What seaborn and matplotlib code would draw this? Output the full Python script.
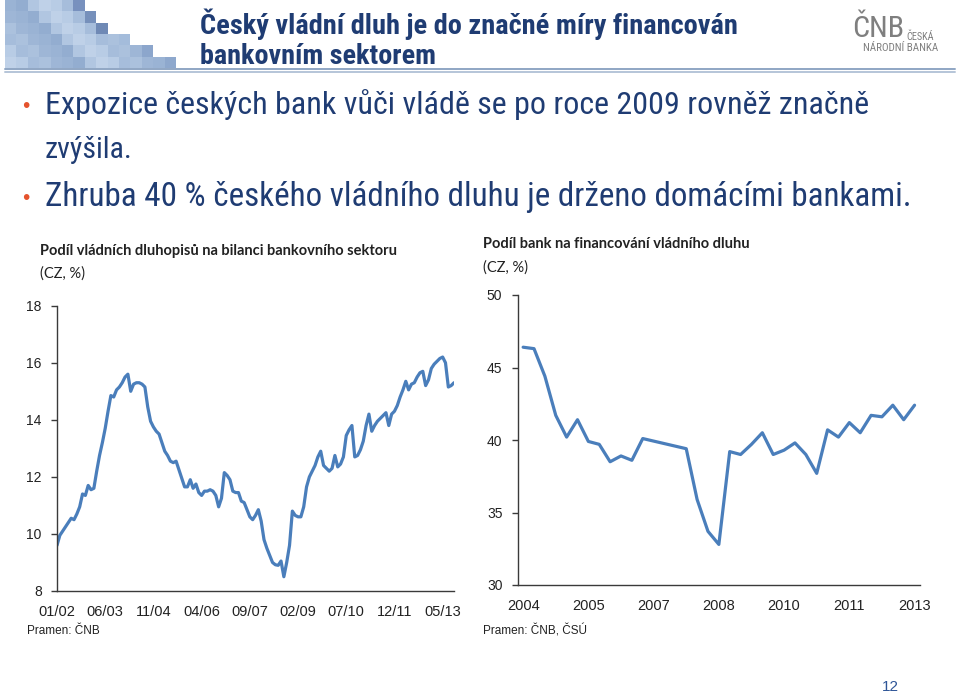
import numpy as np
import pandas as pd
import seaborn as sn
import matplotlib.pyplot as plt
from matplotlib import font_manager as fm
from matplotlib.patches import Rectangle
from matplotlib.lines import Line2D

# share of government bonds on banking sector balance sheet, monthly 01/2002 - 09/2013
bondShare = [9.6, 9.95, 10.1, 10.25, 10.4, 10.55, 10.5, 10.7, 10.95, 11.4,
             11.35, 11.7, 11.55, 11.6, 12.2, 12.75, 13.2, 13.7, 14.3, 14.85,
             14.8, 15.05, 15.15, 15.3, 15.5, 15.6, 15.0, 15.25, 15.3, 15.3,
             15.25, 15.15, 14.45, 13.95, 13.75, 13.6, 13.5, 13.2, 12.9, 12.75,
             12.55, 12.5, 12.55, 12.25, 11.95, 11.65, 11.65, 11.9, 11.6, 11.75,
             11.45, 11.35, 11.5, 11.5, 11.55, 11.5, 11.35, 10.95, 11.25, 12.15,
             12.05, 11.9, 11.5, 11.45, 11.45, 11.15, 11.1, 10.85, 10.6, 10.5,
             10.65, 10.85, 10.45, 9.8, 9.5, 9.25, 9.0, 8.92, 8.9, 9.05,
             8.5, 9.0, 9.6, 10.8, 10.65, 10.6, 10.6, 10.95, 11.65, 12.0,
             12.2, 12.4, 12.7, 12.9, 12.4, 12.3, 12.2, 12.3, 12.75, 12.35,
             12.45, 12.7, 13.45, 13.65, 13.8, 12.7, 12.75, 12.95, 13.25, 13.8,
             14.2, 13.6, 13.8, 13.95, 14.05, 14.15, 14.25, 13.8, 14.2, 14.3,
             14.5, 14.8, 15.05, 15.35, 15.05, 15.25, 15.3, 15.5, 15.65, 15.7,
             15.2, 15.4, 15.8, 15.95, 16.05, 16.15, 16.2, 16.0, 15.15, 15.2,
             15.3]
bondTicks = ["01/02", "06/03", "11/04", "04/06", "09/07", "02/09", "07/10", "12/11", "05/13"]

# share of banks in government debt financing, quarterly 2004 - 2013 (gap in 2006)
bankShare = [46.4, 46.3, 44.4, 41.7, 40.2, 41.4, 39.9, 39.7, 38.5, 38.9,
             38.6, 40.1, None, None, None, 39.4, 35.9, 33.7, 32.8, 39.2,
             39.0, 39.7, 40.5, 39.0, 39.3, 39.8, 39.0, 37.7, 40.7, 40.2,
             41.2, 40.5, 41.7, 41.6, 42.4, 41.4, 42.4]
bankTicks = ["2004", "2005", "2007", "2008", "2010", "2011", "2013"]

W, H = 960, 696
navy = "#1F3C73"
lineColor = "#4A7EBB"


def px(x, y):
    return x / W, 1 - y / H


# look for a narrow font like the one on the slide
narrowFont = {"family": ["Liberation Sans", "DejaVu Sans"]}
names = set((f.name, f.stretch) for f in fm.fontManager.ttflist)
for cand in ["Liberation Sans Narrow", "Arial Narrow", "Roboto Condensed", "Open Sans Condensed"]:
    if any(n == cand for n, s in names):
        narrowFont = {"family": [cand, "DejaVu Sans"]}
        break
else:
    if ("DejaVu Sans", "condensed") in names:
        narrowFont = {"family": ["DejaVu Sans"], "fontstretch": "condensed"}

sn.set_style("white")
plt.rcParams['font.family'] = ['Liberation Sans', 'DejaVu Sans']

fig = plt.figure(figsize=(9.6, 6.96), dpi=100)
renderer = fig.canvas.get_renderer()


def fitText(x, y, s, width, **kw):
    # shrink/grow font so the text spans the same width as on the slide
    t = fig.text(*px(x, y), s, va="center", **narrowFont, **kw)
    w = t.get_window_extent(renderer).width
    t.set_fontsize(t.get_fontsize() * width / w)
    return t


# header mosaic
shades = ["#9AB3D4", "#A6BDDB", "#B1C6E1", "#9EB6D6", "#B8CCE5", "#93ADD0", "#ABC1DD", "#BFD1E8"]
rowCounts = [7, 8, 9, 11, 13, 15]
darkEnd = ["#7891BE", "#7690BB", "#6F89B5", "#A4BCDB", "#8CA6CC", "#8EA8CD"]
for r, n in enumerate(rowCounts):
    for c in range(n):
        col = darkEnd[r] if c == n - 1 else shades[(r * 3 + c * 5) % len(shades)]
        x0, y0 = px(5 + c * 11.4, (r + 1) * 11.3)
        fig.patches.append(Rectangle((x0, y0), 11.4 / W, 11.3 / H, transform=fig.transFigure,
                                     facecolor=col, edgecolor="none"))

for yy, cc in [(68.5, "#8FA6C4"), (72, "#B5C5D8")]:
    fig.lines.append(Line2D([5 / W, 955 / W], [1 - yy / H] * 2, transform=fig.transFigure,
                            color=cc, linewidth=1.4))

fitText(200, 24, "Český vládní dluh je do značné míry financován", 538,
        fontsize=19, fontweight="bold", color=navy)
fitText(200, 57, "bankovním sektorem", 236, fontsize=19, fontweight="bold", color=navy)

# logo
fitText(852, 29, "ČNB", 52, fontsize=20, color="#7F7F7F")
fitText(906, 37, "ČESKÁ", 28, fontsize=7, color="#7F7F7F")
fitText(863, 48, "NÁRODNÍ BANKA", 75, fontsize=7, color="#7F7F7F")

# bullets
fig.text(*px(22, 106), "•", fontsize=15, color="#E5532D", va="center")
fig.text(*px(22, 198), "•", fontsize=15, color="#E5532D", va="center")
fitText(45, 105, "Expozice českých bank vůči vládě se po roce 2009 rovněž značně", 825,
        fontsize=24, color=navy)
fitText(45, 150, "zvýšila.", 88, fontsize=24, color=navy)
fitText(45, 197, "Zhruba 40 % českého vládního dluhu je drženo domácími bankami.", 870,
        fontsize=24, color=navy)

# chart captions
lato = ['Lato', 'DejaVu Sans']
fig.text(*px(40, 251), "Podíl vládních dluhopisů na bilanci bankovního sektoru",
         family=lato, fontsize=10.5, fontweight="bold", color="#222222", va="center")
fig.text(*px(40, 274), "(CZ, %)", family=lato, fontsize=10.5, color="#222222", va="center")
fig.text(*px(483, 244), "Podíl bank na financování vládního dluhu",
         family=lato, fontsize=10.5, fontweight="bold", color="#222222", va="center")
fig.text(*px(483, 268), "(CZ, %)", family=lato, fontsize=10.5, color="#222222", va="center")

fig.text(*px(27, 631), "Pramen: ČNB", fontsize=8.5, color="#222222", va="center")
fig.text(*px(483, 631), "Pramen: ČNB, ČSÚ", fontsize=8.5, color="#222222", va="center")
fig.text(*px(882, 687), "12", fontsize=11, color="#2E5597", va="center")

# left chart
dfLeft = pd.DataFrame({"month": np.arange(len(bondShare)), "share": bondShare})
ax1 = fig.add_axes([57 / W, 1 - 591 / H, (454 - 57) / W, (591 - 305.7) / H])
sn.lineplot(x="month", y="share", data=dfLeft, ax=ax1, color=lineColor, linewidth=2.3)
ax1.set_xlim(0, len(bondShare) - 1)
ax1.set_ylim(8, 18)
ax1.set_yticks(np.arange(8, 19, 2))
ax1.set_xticks(np.arange(0, len(bondShare), 17))
ax1.set_xticklabels(bondTicks)

# right chart
dfRight = pd.DataFrame({"q": np.arange(len(bankShare)), "share": bankShare}).dropna()
ax2 = fig.add_axes([517.7 / W, 1 - 585 / H, (920 - 517.7) / W, 290 / H])
sn.lineplot(x="q", y="share", data=dfRight, ax=ax2, color=lineColor, linewidth=2.3)
ax2.set_xlim(-0.5, len(bankShare) - 0.5)
ax2.set_ylim(30, 50)
ax2.set_yticks(np.arange(30, 51, 5))
ax2.set_xticks(np.arange(0, len(bankShare), 6))
ax2.set_xticklabels(bankTicks)

for ax in (ax1, ax2):
    ax.set_xlabel("")
    ax.set_ylabel("")
    ax.set_facecolor("none")
    for s in ("top", "right"):
        ax.spines[s].set_visible(False)
    for s in ("left", "bottom"):
        ax.spines[s].set_color("#3A3A3A")
        ax.spines[s].set_linewidth(1.0)
    ax.tick_params(axis="y", which="both", left=True, length=4, width=1, color="#3A3A3A",
                   labelsize=10, pad=7, labelcolor="#222222")
    ax.tick_params(axis="x", which="both", bottom=False, length=0, labelsize=10.5, pad=10,
                   labelcolor="#222222")

fig.savefig("out.png", dpi=100)
